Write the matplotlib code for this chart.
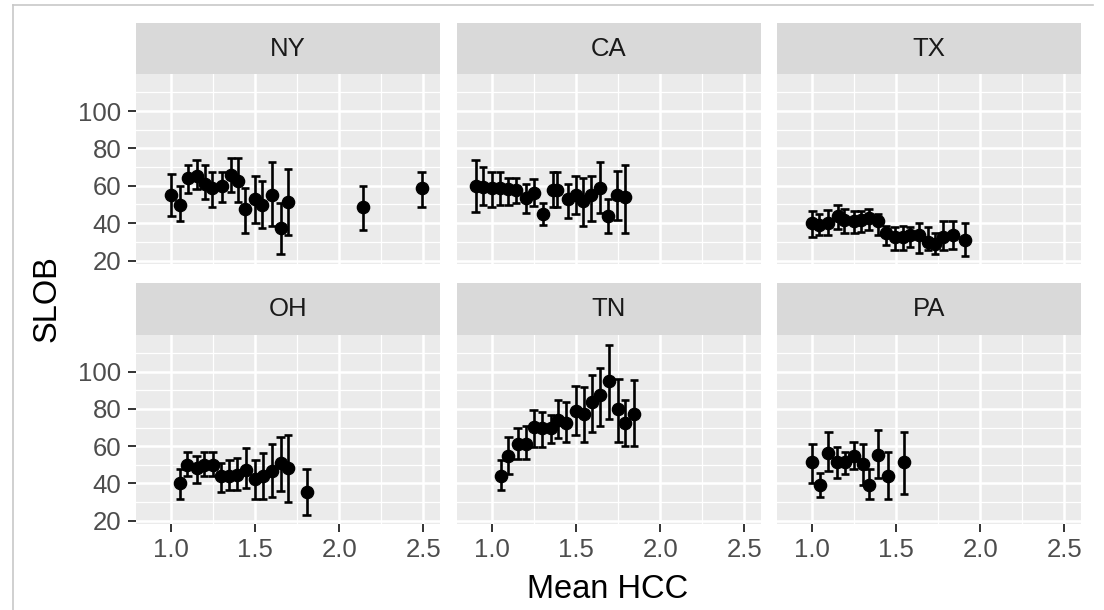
import matplotlib
matplotlib.use("Agg")
import matplotlib.pyplot as plt
from matplotlib.lines import Line2D
import numpy as np

plt.rcParams["font.family"] = ["Liberation Sans", "DejaVu Sans"]

# Per-state summaries: mean HCC (x), mean SLOB (y) and the error-bar limits
ny_x  = [1.00, 1.05, 1.10, 1.15, 1.20, 1.24, 1.30, 1.355, 1.395, 1.44, 1.50, 1.54, 1.60, 1.65, 1.695, 2.14, 2.49]
ny_y  = [54.8, 49.9, 63.9, 65.0, 60.8, 59.0, 59.9, 65.7, 62.6, 47.8, 53.0, 49.9, 55.0, 37.6, 51.4, 48.7, 58.6]
ny_lo = [43.9, 41.2, 56.3, 58.1, 52.7, 48.7, 51.2, 56.6, 51.2, 34.9, 40.0, 37.6, 38.5, 23.6, 33.6, 36.3, 48.7]
ny_hi = [66.3, 59.9, 71.2, 73.9, 71.2, 67.5, 67.5, 75.0, 75.0, 58.6, 65.0, 62.6, 72.6, 50.8, 69.0, 59.9, 67.5]

ca_x  = [0.90, 0.945, 0.995, 1.045, 1.095, 1.14, 1.20, 1.245, 1.30, 1.36, 1.385, 1.45, 1.495, 1.54, 1.59, 1.64, 1.69, 1.745, 1.79]
ca_y  = [59.9, 59.5, 59.0, 59.0, 58.1, 57.7, 53.6, 56.3, 45.0, 57.7, 57.7, 52.7, 54.8, 51.7, 54.8, 59.0, 43.9, 54.8, 54.1]
ca_lo = [45.9, 49.9, 48.7, 49.9, 49.9, 50.8, 45.4, 49.0, 39.0, 48.7, 48.7, 42.7, 45.0, 38.5, 40.9, 45.4, 34.9, 41.5, 34.9]
ca_hi = [73.9, 70.3, 67.2, 67.2, 64.4, 64.4, 60.8, 63.5, 50.8, 67.2, 67.2, 60.8, 65.0, 63.9, 65.0, 72.6, 52.7, 68.1, 71.2]

tx_x  = [1.00, 1.04, 1.09, 1.15, 1.19, 1.25, 1.29, 1.335, 1.39, 1.44, 1.49, 1.54, 1.58, 1.635, 1.69, 1.73, 1.78, 1.835, 1.91]
tx_y  = [40.0, 39.0, 40.0, 43.6, 41.8, 40.9, 41.8, 42.7, 40.9, 34.9, 32.7, 32.7, 33.6, 33.6, 30.0, 29.1, 32.7, 33.6, 31.2]
tx_lo = [32.7, 33.6, 33.6, 36.7, 34.5, 34.5, 35.4, 36.3, 33.6, 28.2, 25.4, 25.4, 27.2, 24.0, 25.4, 23.6, 25.4, 26.3, 22.2]
tx_hi = [46.3, 45.0, 47.2, 49.9, 47.6, 46.3, 46.3, 47.6, 45.0, 38.5, 38.1, 38.5, 38.1, 40.3, 38.1, 34.9, 41.2, 40.9, 40.0]

oh_x  = [1.05, 1.095, 1.15, 1.195, 1.245, 1.295, 1.345, 1.39, 1.445, 1.50, 1.545, 1.60, 1.65, 1.695, 1.805]
oh_y  = [40.1, 50.0, 48.2, 50.0, 50.0, 44.0, 43.7, 44.6, 47.3, 42.2, 43.7, 46.4, 51.2, 48.2, 35.1]
oh_lo = [31.5, 43.7, 40.1, 43.7, 43.7, 35.1, 36.5, 36.5, 37.4, 31.5, 31.5, 32.9, 36.1, 30.2, 23.0]
oh_hi = [47.6, 57.1, 54.8, 57.1, 57.1, 50.9, 52.6, 53.5, 58.9, 52.3, 56.2, 61.3, 64.8, 66.1, 47.6]

tn_x  = [1.05, 1.095, 1.15, 1.20, 1.245, 1.295, 1.35, 1.39, 1.44, 1.495, 1.545, 1.595, 1.64, 1.695, 1.75, 1.79, 1.845]
tn_y  = [44.0, 54.8, 61.3, 61.3, 70.2, 69.7, 69.7, 74.2, 72.4, 78.7, 77.4, 84.0, 87.3, 94.8, 79.9, 72.4, 77.4]
tn_lo = [36.5, 45.1, 53.0, 53.0, 59.5, 59.5, 61.5, 64.3, 62.5, 66.1, 62.5, 67.4, 70.9, 74.5, 62.5, 60.2, 60.2]
tn_hi = [52.3, 64.8, 69.7, 70.6, 79.6, 78.6, 76.9, 84.6, 83.5, 92.1, 91.7, 98.4, 102.0, 114.5, 96.1, 84.6, 95.7]

pa_x  = [1.00, 1.045, 1.095, 1.145, 1.195, 1.245, 1.30, 1.34, 1.39, 1.45, 1.545]
pa_y  = [51.7, 39.2, 56.2, 51.4, 51.4, 54.8, 50.3, 39.2, 55.3, 44.0, 51.4]
pa_lo = [40.1, 32.9, 46.4, 42.8, 45.1, 47.6, 39.2, 31.5, 42.8, 31.5, 34.4]
pa_hi = [61.3, 45.8, 67.4, 59.8, 57.1, 62.5, 61.3, 47.6, 68.8, 57.1, 67.4]

states = ["NY", "CA", "TX", "OH", "TN", "PA"]
series = {
    "NY": (ny_x, ny_y, ny_lo, ny_hi),
    "CA": (ca_x, ca_y, ca_lo, ca_hi),
    "TX": (tx_x, tx_y, tx_lo, tx_hi),
    "OH": (oh_x, oh_y, oh_lo, oh_hi),
    "TN": (tn_x, tn_y, tn_lo, tn_hi),
    "PA": (pa_x, pa_y, pa_lo, pa_hi),
}

x_ticks = [1.0, 1.5, 2.0, 2.5]
x_tick_labels = ["1.0", "1.5", "2.0", "2.5"]
y_ticks = [20, 40, 60, 80, 100]
x_title = "Mean HCC"
y_title = "SLOB"

W, H = 1104, 610
fig = plt.figure(figsize=(W / 100, H / 100), dpi=100)
fig.patch.set_facecolor("white")

def px_rect(left, top, width, height):
    return [left / W, 1 - (top + height) / H, width / W, height / H]

col_left = [136, 457, 777]
col_w = 304
row_strip = [(23, 51), (282.5, 52.5)]
row_panel = [(74, 189.5), (335, 188.5)]

panel_bg = "#EBEBEB"
strip_bg = "#D9D9D9"
cap_w = 0.05

for i, st in enumerate(states):
    r, c = divmod(i, 3)
    # facet strip
    s_top, s_h = row_strip[r]
    sax = fig.add_axes(px_rect(col_left[c], s_top, col_w, s_h))
    sax.set_facecolor(strip_bg)
    for sp in sax.spines.values():
        sp.set_visible(False)
    sax.set_xticks([]); sax.set_yticks([])
    sax.text(0.5, 0.5, st, ha="center", va="center", fontsize=18.5,
             color="#1A1A1A", transform=sax.transAxes)

    # panel
    p_top, p_h = row_panel[r]
    ax = fig.add_axes(px_rect(col_left[c], p_top, col_w, p_h))
    ax.set_facecolor(panel_bg)
    for sp in ax.spines.values():
        sp.set_visible(False)
    ax.set_xlim(0.789, 2.6)
    ax.set_ylim(18.4, 119.8)
    ax.set_xticks(x_ticks)
    ax.set_yticks(y_ticks)
    ax.set_xticks([1.25, 1.75, 2.25], minor=True)
    ax.set_yticks([30, 50, 70, 90, 110], minor=True)
    ax.grid(which="major", color="white", linewidth=1.8)
    ax.grid(which="minor", color="white", linewidth=0.9)
    ax.set_axisbelow(True)
    ax.tick_params(which="minor", length=0)
    ax.tick_params(which="major", length=6, width=1.4, color="#333333",
                   labelsize=18.5, labelcolor="#4D4D4D", pad=4.5)
    if c == 0:
        ax.set_yticklabels([str(v) for v in y_ticks])
    else:
        ax.tick_params(axis="y", which="major", length=0, labelleft=False)
    if r == 1:
        ax.set_xticklabels(x_tick_labels)
    else:
        ax.tick_params(axis="x", which="major", length=0, labelbottom=False)

    x, y, lo, hi = (np.asarray(v, dtype=float) for v in series[st])
    ax.vlines(x, lo, hi, color="black", linewidth=1.9, zorder=3)
    ax.hlines(lo, x - cap_w / 2, x + cap_w / 2, color="black", linewidth=1.9, zorder=3)
    ax.hlines(hi, x - cap_w / 2, x + cap_w / 2, color="black", linewidth=1.9, zorder=3)
    ax.plot(x, y, "o", color="black", markersize=8.8, zorder=4)

# axis titles
fig.text(608 / W, 1 - 590 / H, x_title, ha="center", va="center", fontsize=23.5, color="black")
fig.text(47 / W, 1 - 299 / H, y_title, ha="center", va="center", fontsize=23.5,
         color="black", rotation=90)

# thin outer frame (left and top edges)
fig.add_artist(Line2D([13 / W, 13 / W], [0, 1 - 5 / H], color="#C8C8C8", linewidth=1.2,
                      transform=fig.transFigure))
fig.add_artist(Line2D([13 / W, 1093 / W], [1 - 5 / H, 1 - 5 / H], color="#C8C8C8",
                      linewidth=1.2, transform=fig.transFigure))

fig.savefig("out.png", dpi=100)
